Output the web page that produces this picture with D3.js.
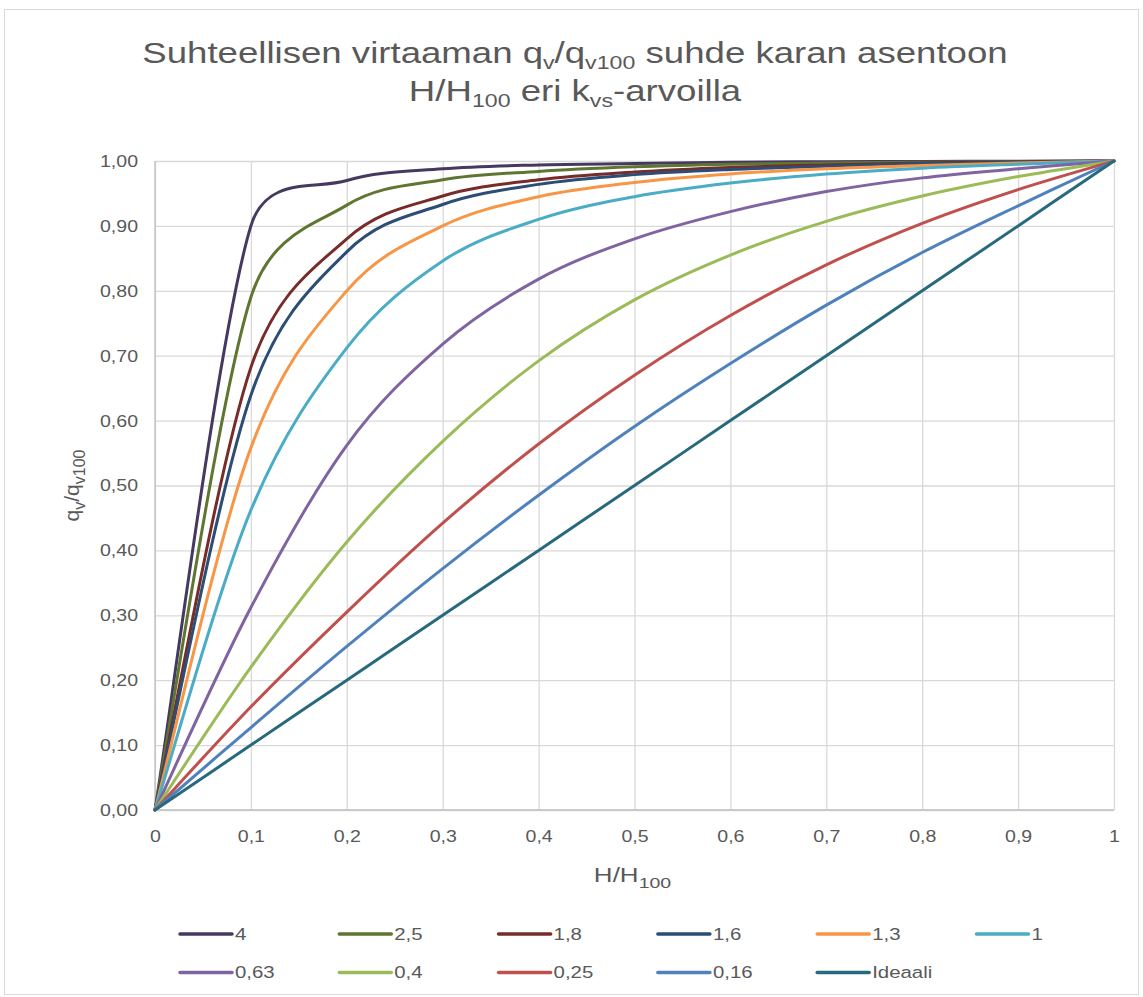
<!DOCTYPE html>
<html>
<head>
<meta charset="utf-8">
<script src="https://cdn.jsdelivr.net/npm/d3@7"></script>
<style>
  body { margin: 0; background: #fff; }
  svg text { font-family: "Liberation Sans", Arial, sans-serif; fill: #595959; }
</style>
</head>
<body>
<div id="chart"></div>
<script>
// stem position H/H100
const positions = [0, 0.1, 0.2, 0.3, 0.4, 0.5, 0.6, 0.7, 0.8, 0.9, 1];

// relative flow qv/qv100 per kvs value
const kvs4    = [0, 0.900, 0.970, 0.988, 0.994, 0.996, 0.998, 0.999, 0.9993, 0.9997, 1];
const kvs2_5  = [0, 0.790, 0.932, 0.971, 0.984, 0.991, 0.995, 0.997, 0.998, 0.999, 1];
const kvs1_8  = [0, 0.682, 0.880, 0.946, 0.971, 0.983, 0.990, 0.994, 0.997, 0.9985, 1];
const kvs1_6  = [0, 0.639, 0.860, 0.933, 0.964, 0.979, 0.987, 0.992, 0.996, 0.998, 1];
const kvs1_3  = [0, 0.558, 0.800, 0.900, 0.945, 0.967, 0.980, 0.988, 0.993, 0.997, 1];
const kvs1    = [0, 0.462, 0.712, 0.846, 0.910, 0.945, 0.966, 0.980, 0.989, 0.995, 1];
const kvs0_63 = [0, 0.312, 0.562, 0.718, 0.818, 0.880, 0.922, 0.953, 0.974, 0.988, 1];
const kvs0_4  = [0, 0.220, 0.413, 0.568, 0.692, 0.786, 0.855, 0.907, 0.946, 0.976, 1];
const kvs0_25 = [0, 0.159, 0.305, 0.442, 0.564, 0.670, 0.762, 0.840, 0.904, 0.956, 1];
const kvs0_16 = [0, 0.127, 0.252, 0.372, 0.485, 0.591, 0.688, 0.778, 0.859, 0.931, 1];
const ideal   = [0, 0.1, 0.2, 0.3, 0.4, 0.5, 0.6, 0.7, 0.8, 0.9, 1];

const seriesNames  = ["4", "2,5", "1,8", "1,6", "1,3", "1", "0,63", "0,4", "0,25", "0,16", "Ideaali"];
const seriesValues = [kvs4, kvs2_5, kvs1_8, kvs1_6, kvs1_3, kvs1, kvs0_63, kvs0_4, kvs0_25, kvs0_16, ideal];
const seriesColors = ["#46395f", "#5f7632", "#772c2a", "#2c4d75", "#f79646", "#4bacc6",
                      "#8064a2", "#9bbb59", "#c0504d", "#4f81bd", "#276a7c"];

const yTicks = [0, 0.1, 0.2, 0.3, 0.4, 0.5, 0.6, 0.7, 0.8, 0.9, 1];
const xTicks = [0, 0.1, 0.2, 0.3, 0.4, 0.5, 0.6, 0.7, 0.8, 0.9, 1];

const width = 1143, height = 997;
const margin = {top: 161, right: 29, bottom: 187, left: 155};
const plotW = width - margin.left - margin.right;
const plotH = height - margin.top - margin.bottom;

// the reference text is a bit wider than Liberation Sans
const stretch = 1.15;

const svg = d3.select("#chart").append("svg")
    .attr("width", width)
    .attr("height", height);

// outer chart border
svg.append("rect")
    .attr("x", 4.5).attr("y", 9.5)
    .attr("width", 1134).attr("height", 985)
    .attr("fill", "#fff")
    .attr("stroke", "#d9d9d9");

function addRuns(textSel, x, y, runs) {
    const line = textSel.append("tspan").attr("x", x).attr("y", y);
    runs.forEach(r => {
        const t = line.append("tspan").text(r[0]);
        if (r[1]) t.attr("dy", r[1]);
        if (r[2]) t.attr("font-size", r[2]);
    });
}

// title with subscripts, two separate lines widened around the centre
const titleG = svg.append("g")
    .attr("transform", "translate(575,0) scale(1.22,1)");

const title1 = titleG.append("text")
    .attr("text-anchor", "middle")
    .attr("font-size", 30);
addRuns(title1, 0, 63, [
    ["Suhteellisen virtaaman q"], ["v", 6, 19], ["/q", -6], ["v100", 6, 19], [" suhde karan asentoon", -6]
]);

const title2 = titleG.append("text")
    .attr("text-anchor", "middle")
    .attr("font-size", 30);
addRuns(title2, 0, 101, [
    ["H/H"], ["100", 6, 19], [" eri k", -6], ["vs", 6, 19], ["-arvoilla", -6]
]);

const g = svg.append("g")
    .attr("transform", "translate(" + margin.left + "," + margin.top + ")");

const x = d3.scaleLinear().domain([0, 1]).range([0, plotW]);
const y = d3.scaleLinear().domain([0, 1]).range([plotH, 0]);

const commaFmt = f => (v => f(v).replace(".", ","));

// gridlines
g.append("g")
    .call(d3.axisLeft(y).tickValues(yTicks).tickSize(-plotW).tickFormat(""))
    .call(a => a.select(".domain").remove())
    .call(a => a.selectAll("line").attr("stroke", "#d9d9d9").attr("stroke-width", 1.3));

g.append("g")
    .attr("transform", "translate(0," + plotH + ")")
    .call(d3.axisBottom(x).tickValues(xTicks).tickSize(plotH).tickFormat(""))
    .call(a => a.select(".domain").remove())
    .call(a => a.selectAll("line").attr("stroke", "#d9d9d9").attr("stroke-width", 1.3)
        .attr("transform", "translate(0," + (-plotH) + ")"));

// axis lines
g.append("line")
    .attr("x1", 0).attr("x2", plotW).attr("y1", plotH).attr("y2", plotH)
    .attr("stroke", "#bfbfbf").attr("stroke-width", 1.3);
g.append("line")
    .attr("x1", 0).attr("x2", 0).attr("y1", 0).attr("y2", plotH)
    .attr("stroke", "#bfbfbf").attr("stroke-width", 1.3);

// tick labels
const yAxis = g.append("g")
    .call(d3.axisLeft(y).tickValues(yTicks).tickSize(0).tickPadding(17)
        .tickFormat(commaFmt(d3.format(".2f"))));
yAxis.select(".domain").remove();
yAxis.selectAll("text").attr("font-size", 17).attr("fill", "#595959")
    .attr("font-family", "Liberation Sans, Arial, sans-serif")
    .attr("transform", "translate(-17,0) scale(" + stretch + ",1) translate(17,0)");

const xAxis = g.append("g")
    .attr("transform", "translate(0," + plotH + ")")
    .call(d3.axisBottom(x).tickValues(xTicks).tickSize(0).tickPadding(20)
        .tickFormat(commaFmt(d => d === 0 || d === 1 ? String(d) : d3.format(".1f")(d))));
xAxis.select(".domain").remove();
xAxis.selectAll("text").attr("font-size", 17).attr("fill", "#595959")
    .attr("font-family", "Liberation Sans, Arial, sans-serif")
    .attr("transform", "scale(" + stretch + ",1)");

// axis titles
const xTitle = svg.append("g")
    .attr("transform", "translate(" + (margin.left + plotW / 2 - 2) + ",0) scale(1.3,1)")
    .append("text")
    .attr("text-anchor", "middle")
    .attr("font-size", 20);
addRuns(xTitle, 0, 882, [["H/H"], ["100", 6, 15], ["", -6]]);

const yTitle = svg.append("text")
    .attr("text-anchor", "middle")
    .attr("font-size", 21)
    .attr("transform", "translate(79," + (margin.top + plotH / 2) + ") rotate(-90)");
addRuns(yTitle, 0, 0, [["q"], ["v", 6, 16], ["/q", -6], ["v100", 6, 16], ["", -6]]);

// spreadsheet-style smoothing: tangent along the neighbour chord,
// handle = chord/6 but never more than half of the segment it sits on
function smoothCurve(context) {
    let pts = [];
    return {
        areaStart() {}, areaEnd() {},
        lineStart() { pts = []; },
        point(px, py) { pts.push([px, py]); },
        lineEnd() {
            const n = pts.length;
            if (!n) return;
            context.moveTo(pts[0][0], pts[0][1]);
            const tan = pts.map((p, i) => {
                const a = pts[Math.max(i - 1, 0)], b = pts[Math.min(i + 1, n - 1)];
                const dx = b[0] - a[0], dy = b[1] - a[1], len = Math.hypot(dx, dy) || 1;
                return [dx / len, dy / len, len / 6];
            });
            for (let i = 0; i < n - 1; i++) {
                const p = pts[i], q = pts[i + 1];
                const seg = Math.hypot(q[0] - p[0], q[1] - p[1]);
                const h1 = Math.min(tan[i][2], seg / 2);
                const h2 = Math.min(tan[i + 1][2], seg / 2);
                context.bezierCurveTo(
                    p[0] + tan[i][0] * h1, p[1] + tan[i][1] * h1,
                    q[0] - tan[i + 1][0] * h2, q[1] - tan[i + 1][1] * h2,
                    q[0], q[1]);
            }
        }
    };
}

// series lines
const line = d3.line()
    .x((d, i) => x(positions[i]))
    .y(d => y(d))
    .curve(smoothCurve);

g.append("g")
    .selectAll("path")
    .data(seriesValues)
    .join("path")
    .attr("d", d => line(d))
    .attr("fill", "none")
    .attr("stroke", (d, i) => seriesColors[i])
    .attr("stroke-width", 3)
    .attr("stroke-linejoin", "round")
    .attr("stroke-linecap", "round");

// legend
const legend = svg.append("g");
const item = legend.selectAll("g")
    .data(seriesNames)
    .join("g")
    .attr("transform", (d, i) => "translate(" + (180 + (i % 6) * 159.3) + "," + (934 + Math.floor(i / 6) * 38.5) + ")");

item.append("line")
    .attr("x1", 0).attr("x2", 52)
    .attr("stroke", (d, i) => seriesColors[i])
    .attr("stroke-width", 3.5)
    .attr("stroke-linecap", "round");

item.append("text")
    .attr("x", 55)
    .attr("dy", "0.35em")
    .attr("font-size", 17)
    .attr("transform", "translate(55,0) scale(1.2,1) translate(-55,0)")
    .text(d => d);
</script>
</body>
</html>
